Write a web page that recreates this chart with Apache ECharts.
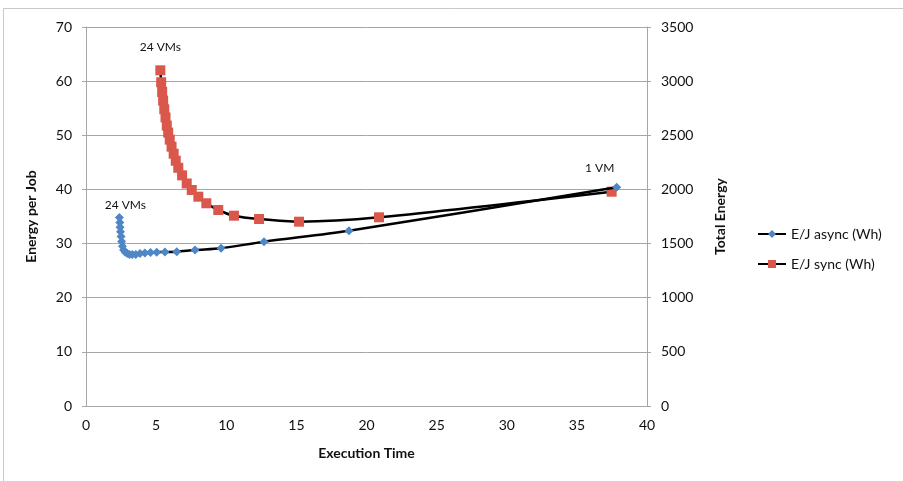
<!DOCTYPE html>
<html>
<head>
<meta charset="utf-8">
<script src="https://cdn.jsdelivr.net/npm/echarts@6/dist/echarts.min.js"></script>
<style>html,body{margin:0;padding:0;background:#fff;}#c{width:903px;height:481px;}</style>
</head>
<body>
<div id="c"></div>
<script>
// Sync series: n = 1 .. 24 VMs
const syncTime = [37.48, 20.89, 15.19, 12.34, 10.55, 9.43, 8.58, 8.01, 7.54, 7.18, 6.85, 6.58, 6.40, 6.25, 6.10, 5.97, 5.86, 5.76, 5.67, 5.58, 5.50, 5.43, 5.36, 5.30];
const syncEJ   = [39.58, 34.85, 34.04, 34.54, 35.15, 36.2, 37.44, 38.66, 39.9, 41.1, 42.6, 44.0, 45.3, 46.6, 47.9, 49.2, 50.5, 51.8, 53.3, 54.8, 56.4, 58.0, 59.8, 62.0];
// Async series: n = 1 .. 24 VMs
const asyncTime = [37.84, 18.75, 12.69, 9.63, 7.77, 6.47, 5.63, 5.04, 4.6, 4.2, 3.85, 3.55, 3.3, 3.1, 2.95, 2.8, 2.68, 2.6, 2.54, 2.5, 2.46, 2.43, 2.41, 2.38];
const asyncEJ   = [40.4, 32.38, 30.35, 29.13, 28.81, 28.5, 28.45, 28.4, 28.35, 28.25, 28.15, 28.0, 28.0, 28.0, 28.15, 28.4, 28.8, 29.5, 30.4, 31.3, 32.2, 33.0, 33.9, 34.8];
const seriesNames = ['E/J async (Wh)', 'E/J sync (Wh)'];
const xName = 'Execution Time', yLeftName = 'Energy per Job', yRightName = 'Total Energy';

const FONT = 'Lato, "Open Sans", sans-serif';
function build(t, e, labels) {
  return t.map((x, i) => {
    const d = { value: [x, e[i]] };
    if (labels[i]) d.label = Object.assign({ show: true, fontFamily: FONT, fontSize: 12, color: '#111' }, labels[i]);
    return d;
  });
}
const asyncData = build(asyncTime, asyncEJ, { 23: { formatter: '24 VMs', position: 'top', offset: [6, 3] } });
const syncData = build(syncTime, syncEJ, {
  23: { formatter: '24 VMs', position: 'top', offset: [0, -7] },
  0: { formatter: '1 VM', position: 'top', offset: [-12, -8] }
});

const chart = echarts.init(document.getElementById('c'));
chart.setOption({
  animation: false,
  textStyle: { fontFamily: FONT },
  graphic: [{ type: 'rect', shape: { x: 3.5, y: 8.5, width: 920, height: 500 }, style: { fill: 'none', stroke: '#c8c8c8', lineWidth: 1 }, silent: true }],
  grid: { left: 86, right: 256, top: 27, bottom: 75 },
  legend: {
    orient: 'vertical', left: 752, top: 222, itemGap: 16, itemWidth: 28, itemHeight: 10,
    textStyle: { fontFamily: FONT, fontSize: 14, color: '#111' },
    data: seriesNames
  },
  xAxis: {
    type: 'value', min: 0, max: 40, interval: 5,
    name: xName, nameLocation: 'middle', nameGap: 40,
    nameTextStyle: { fontFamily: FONT, fontSize: 14, fontWeight: 'bold', color: '#111' },
    axisLine: { lineStyle: { color: '#a6a6a6' } },
    axisTick: { show: false },
    axisLabel: { fontSize: 14, color: '#111', margin: 12 },
    splitLine: { show: false }
  },
  yAxis: [{
    type: 'value', min: 0, max: 70, interval: 10, position: 'left',
    name: yLeftName, nameLocation: 'middle', nameGap: 48, nameRotate: 90,
    nameTextStyle: { fontFamily: FONT, fontSize: 14, fontWeight: 'bold', color: '#111' },
    axisLine: { show: true, lineStyle: { color: '#a6a6a6' } },
    axisTick: { show: true, length: 4, lineStyle: { color: '#a6a6a6' } },
    axisLabel: { fontSize: 14, color: '#111', margin: 14 },
    splitLine: { lineStyle: { color: '#a6a6a6' } }
  }, {
    type: 'value', min: 0, max: 3500, interval: 500, position: 'right',
    name: yRightName, nameLocation: 'middle', nameGap: 66, nameRotate: 90,
    nameTextStyle: { fontFamily: FONT, fontSize: 14, fontWeight: 'bold', color: '#111' },
    axisLine: { show: true, lineStyle: { color: '#a6a6a6' } },
    axisTick: { show: true, length: 4, lineStyle: { color: '#a6a6a6' } },
    axisLabel: { fontSize: 14, color: '#111', margin: 14, formatter: v => String(v) },
    splitLine: { show: false }
  }],
  series: [{
    name: seriesNames[0], type: 'line', yAxisIndex: 0, data: asyncData,
    smooth: 0.3, symbol: 'diamond', symbolSize: 9,
    lineStyle: { color: '#000', width: 2.5 },
    itemStyle: { color: '#4f86c6' }, z: 3
  }, {
    name: seriesNames[1], type: 'line', yAxisIndex: 0, data: syncData,
    smooth: 0.3, symbol: 'rect', symbolSize: 10,
    lineStyle: { color: '#000', width: 2.5 },
    itemStyle: { color: '#d9574b' }, z: 2
  }]
});
</script>
</body>
</html>
